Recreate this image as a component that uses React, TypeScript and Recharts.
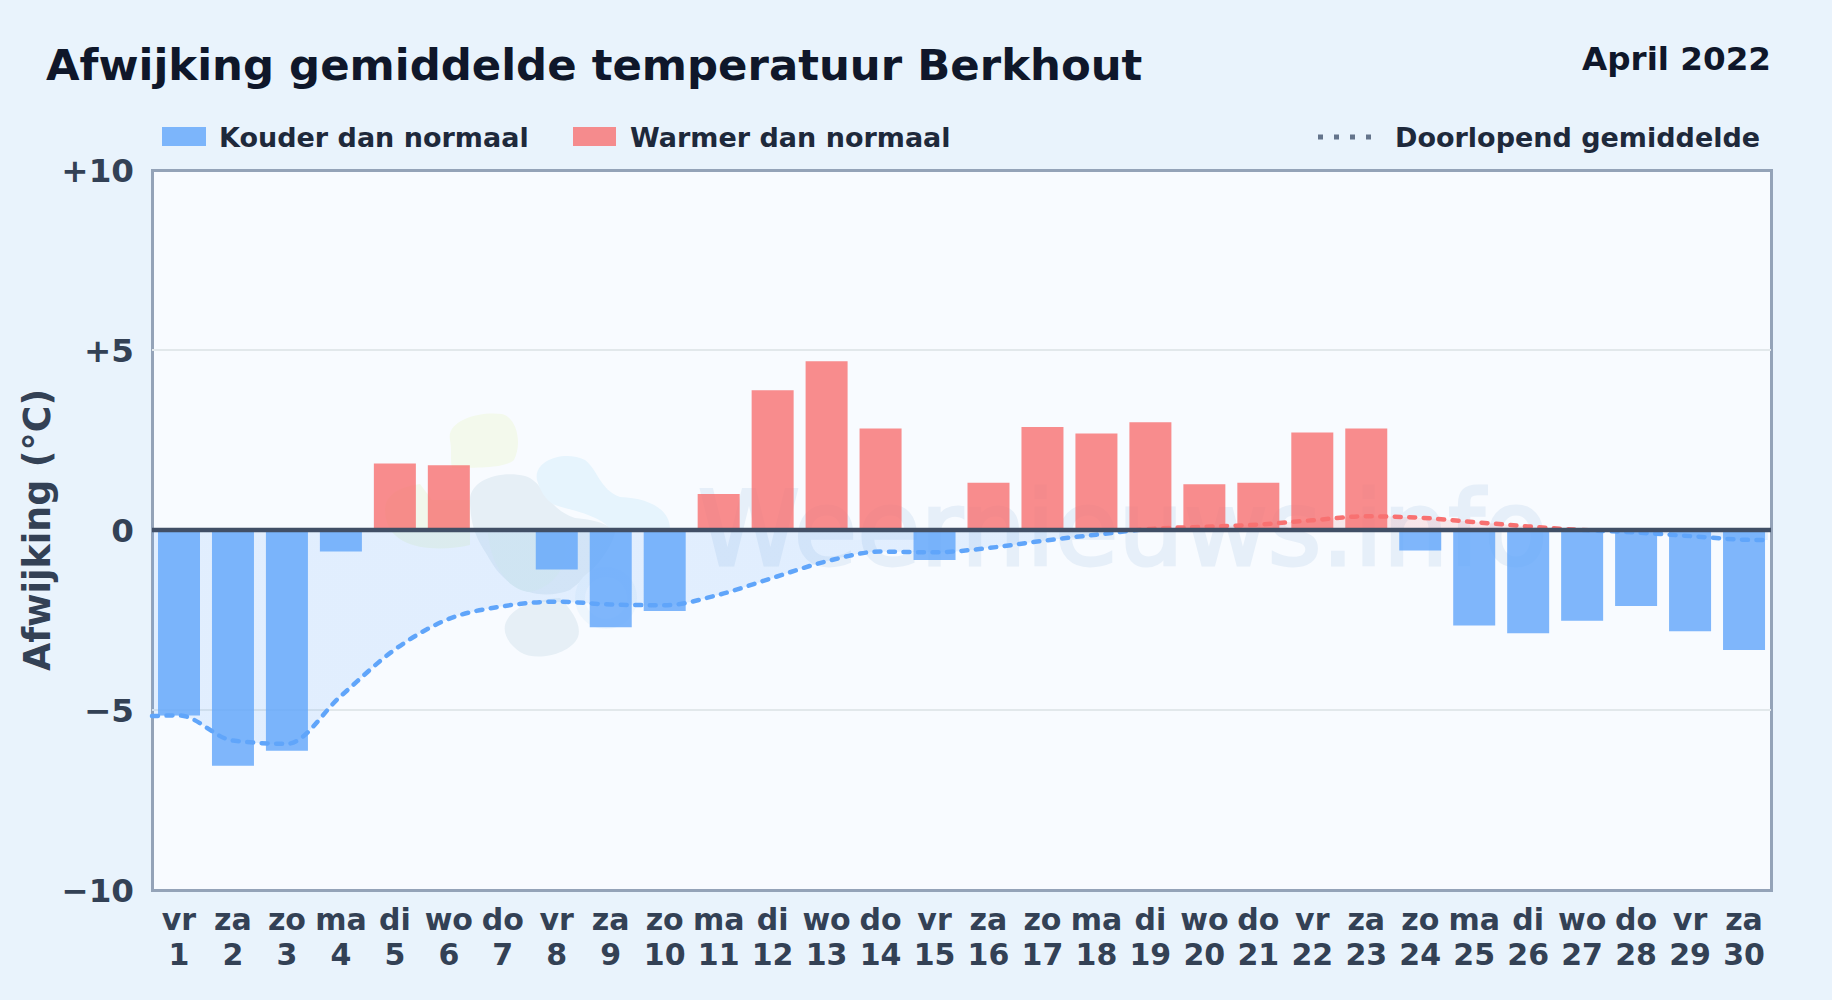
import React from 'react';
import {
  ComposedChart,
  Bar,
  Cell,
  Line,
  Area,
  XAxis,
  YAxis,
  CartesianGrid,
  ReferenceLine,
} from 'recharts';

const weekdays = [
  'vr', 'za', 'zo', 'ma', 'di', 'wo', 'do', 'vr', 'za', 'zo',
  'ma', 'di', 'wo', 'do', 'vr', 'za', 'zo', 'ma', 'di', 'wo',
  'do', 'vr', 'za', 'zo', 'ma', 'di', 'wo', 'do', 'vr', 'za',
];
const days = [
  1, 2, 3, 4, 5, 6, 7, 8, 9, 10, 11, 12, 13, 14, 15,
  16, 17, 18, 19, 20, 21, 22, 23, 24, 25, 26, 27, 28, 29, 30,
];
const deviations = [
  -5.15, -6.55, -6.13, -0.6, 1.85, 1.8, 0, -1.1, -2.7, -2.25,
  1.0, 3.88, 4.69, 2.82, -0.83, 1.31, 2.86, 2.68, 2.99, 1.27,
  1.31, 2.71, 2.82, -0.57, -2.65, -2.87, -2.52, -2.11, -2.81, -3.33,
];
// the running line runs on past the first and last day, up to the plot edges
const meanDays = [
  0.5, 1, 2, 3, 4, 5, 6, 7, 8, 9, 10, 11, 12, 13, 14, 15,
  16, 17, 18, 19, 20, 21, 22, 23, 24, 25, 26, 27, 28, 29, 30, 30.44,
];
const meanValues = [
  -5.17, -5.15, -5.85, -5.94, -4.61, -3.32, -2.47, -2.12, -1.99, -2.07, -2.09,
  -1.8, -1.33, -0.87, -0.6, -0.62, -0.5, -0.3, -0.13, 0.03, 0.09,
  0.15, 0.27, 0.38, 0.34, 0.22, 0.1, 0.0, -0.07, -0.17, -0.27, -0.28,
];
const yTicks = [-10, -5, 0, 5, 10];
const yTickLabels = ['\u221210', '\u22125', '0', '+5', '+10'];

const FONT = '"DejaVu Sans", sans-serif';
const W = 1832;
const H = 1000;
const PLOT = { left: 152, top: 170, right: 1771, bottom: 890 };

const barData = days.map((day, i) => ({ day, weekday: weekdays[i], value: deviations[i] }));
const meanData = meanDays.map((day, i) => ({ day, mean: meanValues[i] }));

const DayTick = ({ x, y, payload }: any) => {
  const i = days.indexOf(payload.value);
  return (
    <text x={x} y={y} textAnchor="middle" fontFamily={FONT} fontWeight={700} fontSize={30} fill="#334155">
      <tspan x={x} dy={32}>{weekdays[i]}</tspan>
      <tspan x={x} dy={35}>{days[i]}</tspan>
    </text>
  );
};

const textBase: React.CSSProperties = {
  position: 'absolute',
  fontFamily: FONT,
  fontWeight: 700,
  whiteSpace: 'nowrap',
  lineHeight: 1,
};

const App = () => (
  <div
    style={{
      position: 'absolute',
      left: 0,
      top: 0,
      width: W,
      height: H,
      overflow: 'hidden',
      background: '#e9f3fc',
    }}
  >
    <div style={{ ...textBase, left: 46, top: 44, fontSize: 43.4, color: '#0f172a' }}>
      Afwijking gemiddelde temperatuur Berkhout
    </div>
    <div style={{ ...textBase, right: 61, top: 43, fontSize: 32.6, color: '#0f172a' }}>April 2022</div>

    <div style={{ ...textBase, left: 162, top: 127, width: 44, height: 19, background: '#60a5fa', opacity: 0.8 }} />
    <div style={{ ...textBase, left: 219, top: 123.5, fontSize: 27, color: '#1e293b' }}>Kouder dan normaal</div>
    <div style={{ ...textBase, left: 573, top: 127, width: 43, height: 19, background: '#f87171', opacity: 0.8 }} />
    <div style={{ ...textBase, left: 630, top: 123.5, fontSize: 27, color: '#1e293b' }}>Warmer dan normaal</div>
    <svg style={{ position: 'absolute', left: 1316, top: 130 }} width={60} height={14}>
      <line x1={2} x2={58} y1={7} y2={7} stroke="#64748b" strokeWidth={5} strokeDasharray="5 11" />
    </svg>
    <div style={{ ...textBase, left: 1395, top: 123.5, fontSize: 27, color: '#1e293b' }}>Doorlopend gemiddelde</div>

    {/* plot background sits under the transparent chart */}
    <div
      style={{
        position: 'absolute',
        boxSizing: 'border-box',
        left: PLOT.left - 1.5,
        top: PLOT.top - 1.5,
        width: PLOT.right - PLOT.left + 3,
        height: PLOT.bottom - PLOT.top + 3,
        border: '3px solid #94a3b8',
        background: '#f8fbff',
      }}
    />
    {/* watermark */}
    <svg style={{ position: 'absolute', left: 0, top: 0 }} width={W} height={H}>
      <path
        d="M450 440 C446 420 480 411 502 414 C518 418 522 445 514 460 C505 468 480 468 452 468 C450 460 452 450 450 440 Z"
        fill="#f3f9ec"
      />
      <path
        d="M385 510 C385 492 405 486 420 484 L432 500 L470 500 L470 545 C440 552 385 552 385 510 Z"
        fill="#f1f8ec"
      />
      <path
        d="M470 500 C470 480 500 470 525 476 C545 482 545 508 575 518 C600 520 610 526 615 532 C612 550 590 575 570 590 C545 600 510 595 490 560 C484 548 470 535 470 500 Z"
        fill="#e6eff6"
      />
      <path
        d="M488 533 L563 533 C570 560 560 585 530 592 C505 590 490 560 488 533 Z"
        fill="#e3f0f1"
      />
      <path
        d="M505 625 C510 608 530 600 560 598 C572 610 582 625 578 637 C570 655 535 662 520 652 C510 645 503 635 505 625 Z"
        fill="#e6eff6"
      />
      <path
        d="M537 480 C533 460 565 450 585 460 C598 470 600 490 620 497 C650 498 670 510 670 529 L610 529 C600 515 570 510 555 505 C545 500 540 490 537 480 Z"
        fill="#e6f4fd"
      />
      <circle cx={606} cy={598} r={26} fill="none" stroke="#eef6fd" strokeWidth={10} />
      <text
        x={698}
        y={565}
        fontFamily={FONT}
        fontWeight={400}
        fontSize={103}
        fill="#1e6bb8"
        stroke="#1e6bb8"
        strokeWidth={3}
        opacity={0.08}
      >
        Weernieuws.info
      </text>
    </svg>

    <div style={{ position: 'absolute', left: 0, top: 0 }}>
      <ComposedChart
        width={W}
        height={H}
        data={barData}
        margin={{ top: PLOT.top, right: W - PLOT.right, bottom: 0, left: 0 }}
      >
        <defs>
          <linearGradient
            id="meanStroke"
            gradientUnits="userSpaceOnUse"
            x1={0}
            x2={0}
            y1={PLOT.top}
            y2={PLOT.bottom}
          >
            <stop offset="50%" stopColor="#f87171" />
            <stop offset="50%" stopColor="#60a5fa" />
          </linearGradient>
          <linearGradient
            id="meanFill"
            gradientUnits="userSpaceOnUse"
            x1={0}
            x2={0}
            y1={PLOT.top}
            y2={PLOT.bottom}
          >
            <stop offset="50%" stopColor="#f87171" stopOpacity={0.15} />
            <stop offset="50%" stopColor="#60a5fa" stopOpacity={0.15} />
          </linearGradient>
        </defs>
        <CartesianGrid vertical={false} horizontalValues={[-5, 5]} stroke="#e2e8eb" strokeWidth={2} />
        <XAxis
          dataKey="day"
          type="category"
          interval={0}
          height={H - PLOT.bottom}
          axisLine={false}
          tickLine={false}
          tick={<DayTick />}
        />
        <XAxis xAxisId="mean" dataKey="day" type="number" domain={[0.5, 30.5]} hide />
        <YAxis
          type="number"
          domain={[-10, 10]}
          ticks={yTicks}
          width={PLOT.left}
          axisLine={false}
          tickLine={false}
          tickMargin={12}
          tickFormatter={(v: number) => yTickLabels[yTicks.indexOf(v)]}
          tick={{ fontFamily: FONT, fontWeight: 700, fontSize: 32.6, fill: '#334155' }}
          label={{
            value: 'Afwijking (°C)',
            angle: -90,
            position: 'insideLeft',
            offset: 37,
            style: { fontFamily: FONT, fontWeight: 700, fontSize: 36.4, fill: '#334155', textAnchor: 'middle' },
          }}
        />
        <Area
          xAxisId="mean"
          data={meanData}
          dataKey="mean"
          type="monotone"
          stroke="none"
          fill="url(#meanFill)"
          fillOpacity={1}
          isAnimationActive={false}
        />
        <Bar dataKey="value" barSize={42} isAnimationActive={false}>
          {deviations.map((v, i) => (
            <Cell key={days[i]} fill={v < 0 ? '#60a5fa' : '#f87171'} fillOpacity={0.8} />
          ))}
        </Bar>
        <Line
          xAxisId="mean"
          data={meanData}
          dataKey="mean"
          type="monotone"
          stroke="url(#meanStroke)"
          strokeWidth={4.5}
          strokeDasharray="6 8.5"
          strokeLinecap="round"
          dot={false}
          activeDot={false}
          isAnimationActive={false}
        />
        <ReferenceLine y={0} stroke="#414f66" strokeWidth={4.5} />
      </ComposedChart>
    </div>
  </div>
);

export default App;
